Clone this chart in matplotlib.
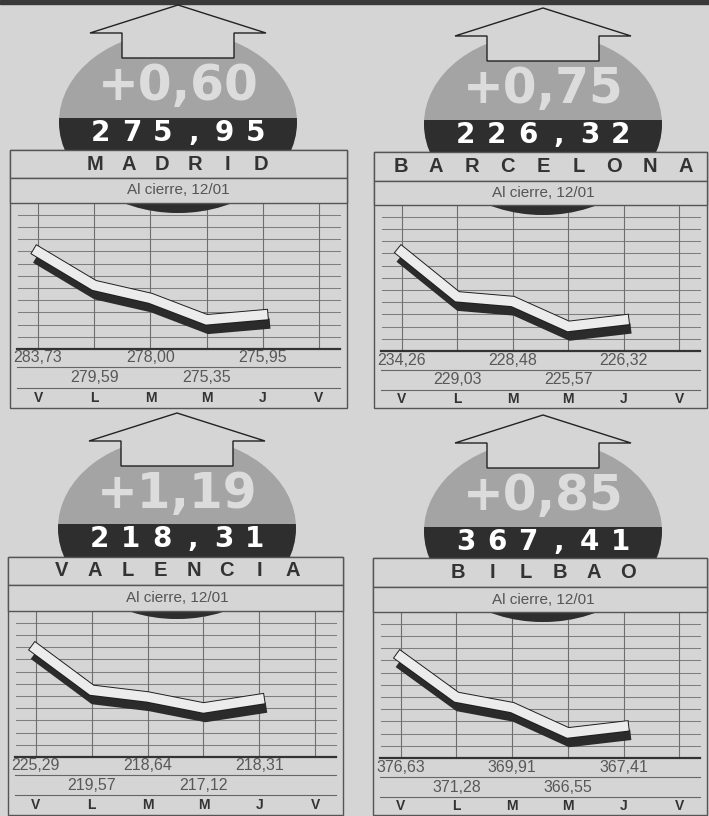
import matplotlib
matplotlib.use("Agg")
import matplotlib.pyplot as plt
import matplotlib.patheffects as pe
from matplotlib.patches import Ellipse, Rectangle, Polygon
from matplotlib.transforms import blended_transform_factory

# cierres de la semana (V L M M J) en cada bolsa
dias = ["V", "L", "M", "M", "J", "V"]
madrid = [283.73, 279.59, 278.00, 275.35, 275.95]
barcelona = [234.26, 229.03, 228.48, 225.57, 226.32]
valencia = [225.29, 219.57, 218.64, 217.12, 218.31]
bilbao = [376.63, 371.28, 369.91, 366.55, 367.41]
variacion = ["+0,60", "+0,75", "+1,19", "+0,85"]
plazas = ["MADRID", "BARCELONA", "VALENCIA", "BILBAO"]
subtitulo = "Al cierre, 12/01"

series = [madrid, barcelona, valencia, bilbao]

# colocacion de cada recuadro, en pixeles
paneles = [
    dict(x0=10, x1=347, top=150, t1=178, t2=203, base=349, r1=367, r2=388, bot=408,
         cx=178, band=118, tip=5, esp=33, pt=0.72, pb=0.43),
    dict(x0=374, x1=707, top=152, t1=181, t2=205, base=351, r1=370, r2=390, bot=408,
         cx=543, band=120, tip=8, esp=35.6, pt=0.63, pb=0.33),
    dict(x0=8, x1=343, top=557, t1=585, t2=611, base=757, r1=775, r2=795, bot=815,
         cx=177, band=524, tip=413, esp=33, pt=0.64, pb=0.83),
    dict(x0=373, x1=707, top=558, t1=587, t2=612, base=758, r1=777, r2=797, bot=815,
         cx=543, band=527, tip=415, esp=34, pt=0.59, pb=0.33),
]

FONDO = "#d5d5d5"
W, H = 709, 816


def fmt(v):
    return ("%.2f" % v).replace(".", ",")


def espaciado(ax, xc, y, texto, paso, **kw):
    n = len(texto)
    for i, c in enumerate(texto):
        ax.text(xc + (i - (n - 1) / 2) * paso, y, c, ha="center", va="center", **kw)


fig = plt.figure(figsize=(W / 100, H / 100), dpi=100, facecolor=FONDO)
bg = fig.add_axes([0, 0, 1, 1], zorder=0)
top = fig.add_axes([0, 0, 1, 1], zorder=2)
for a in (bg, top):
    a.set_xlim(0, W)
    a.set_ylim(H, 0)
    a.axis("off")

bg.add_patch(Rectangle((0, 0), W, 4, color="#3a3a3a"))

for serie, nombre, var, p in zip(series, plazas, variacion, paneles):
    x0, x1 = p["x0"], p["x1"]
    ch = fig.add_axes([x0 / W, 1 - p["base"] / H, (x1 - x0) / W, (p["base"] - p["t2"]) / H], zorder=1)
    ch.axis("off")
    ch.set_xlim(-0.5, len(dias) - 0.5)
    lo, hi = min(serie), max(serie)
    r = hi - lo
    ch.set_ylim(lo - p["pb"] * r, hi + p["pt"] * r)
    ch.plot(range(len(serie)), serie, color="#ececec", lw=6.8, solid_joinstyle="miter",
            solid_capstyle="projecting", clip_on=False,
            path_effects=[pe.SimpleLineShadow(offset=(1.5, -6.5), shadow_color="#2b2b2b", alpha=1,
                                              linewidth=7.5),
                          pe.Stroke(linewidth=8.2, foreground="#1e1e1e"), pe.Normal()])

    tr = blended_transform_factory(ch.transData, bg.transData)

    # rejilla
    for k in range(1, 12):
        y = p["base"] - k * 12.2
        bg.plot([x0 + 8, x1 - 7], [y, y], color="#7e7e7e", lw=0.75)
    for i in range(len(dias)):
        bg.plot([i, i], [p["t2"], p["base"]], transform=tr, color="#6e6e6e", lw=0.8)
    bg.plot([x0 + 7, x1 - 7], [p["base"], p["base"]], color="#333333", lw=1.6)
    for y in (p["r1"], p["r2"]):
        bg.plot([x0 + 7, x1 - 7], [y, y], color="#666666", lw=0.8)
    bg.add_patch(Rectangle((x0, p["top"]), x1 - x0, p["bot"] - p["top"], fill=False, ec="#555555", lw=1))

    # cifras bajo el grafico
    filas = [(p["base"] + p["r1"]) / 2, (p["r1"] + p["r2"]) / 2]
    for i, v in enumerate(serie):
        bg.text(i, filas[i % 2], fmt(v), transform=tr, ha="center", va="center",
                fontsize=11.5, color="#585858", family="Liberation Sans")
    for i, d in enumerate(dias):
        bg.text(i, (p["r2"] + p["bot"]) / 2, d, transform=tr, ha="center", va="center",
                fontsize=10, weight="bold", color="#333333", family="Liberation Sans")

    # globo con la variacion
    cx = p["cx"]
    el = Ellipse((cx, p["band"] + 4), 238, 182, fc="#a4a4a4", ec="none")
    top.add_patch(el)
    banda = Rectangle((cx - 130, p["band"]), 260, 120, fc="#2e2e2e", ec="none")
    top.add_patch(banda)
    banda.set_clip_path(el)

    for ya, yb in ((p["top"], p["t1"]), (p["t1"], p["t2"])):
        top.add_patch(Rectangle((x0, ya), x1 - x0, yb - ya, fc=FONDO, ec="#555555", lw=1))

    t = p["tip"]
    flecha = [(cx, t), (cx + 88, t + 28), (cx + 56, t + 28), (cx + 56, t + 53),
              (cx - 56, t + 53), (cx - 56, t + 28), (cx - 88, t + 28)]
    top.add_patch(Polygon(flecha, closed=True, fc=FONDO, ec="#222222", lw=1))

    top.text(cx, t + 81, var, ha="center", va="center", fontsize=35, weight="bold",
             color="#dcdcdc", family="DejaVu Sans")
    espaciado(top, cx, p["band"] + 15, fmt(serie[-1]), 31, fontsize=20, weight="bold",
              color="white", family="DejaVu Sans")
    espaciado(top, cx, (p["top"] + p["t1"]) / 2, nombre, p["esp"], fontsize=14.5,
              weight="bold", color="#333333", family="Liberation Sans")
    top.text(cx, (p["t1"] + p["t2"]) / 2, subtitulo, ha="center", va="center",
             fontsize=11, color="#555555", family="Liberation Sans")

fig.savefig("out.png", dpi=100, facecolor=FONDO)
